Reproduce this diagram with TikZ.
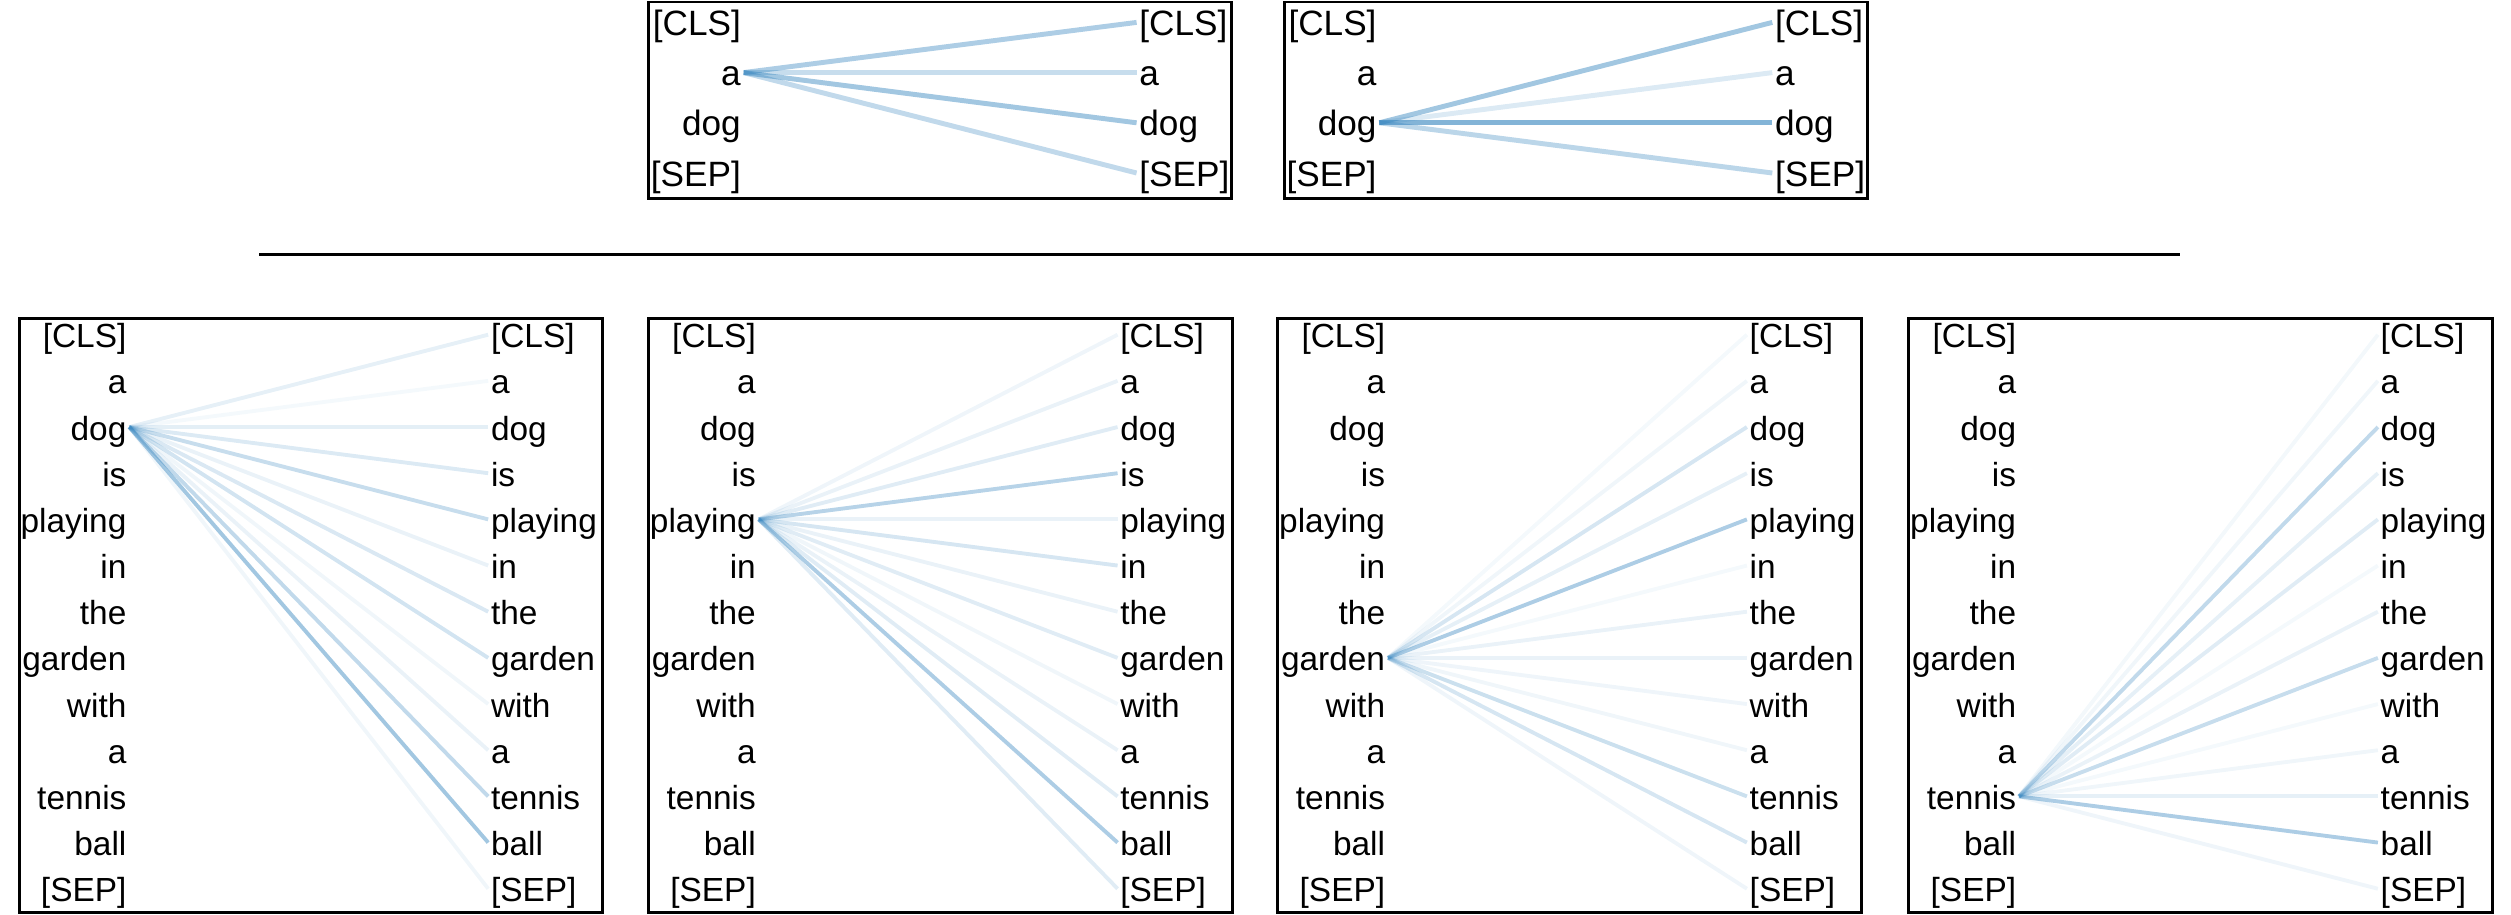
\documentclass[tikz,border=0pt]{standalone}
\usepackage{fontspec}
\setmainfont{Liberation Sans}
\definecolor{attn}{RGB}{49,130,189}

\begin{document}
\begin{tikzpicture}
[x=0.01cm,y=-0.01cm,%
  word/.style={inner ysep=0pt,inner xsep=0.6pt,text height=0.94em,text depth=0.2em,%
    font=\fontsize{9.5}{11}\selectfont},%
  lword/.style={word,anchor=east},%
  rword/.style={word,anchor=west},%
  bigword/.style={font=\fontsize{10}{12}\selectfont},%
  frame/.style={draw,line width=0.85pt},%
  att/.style={draw=attn,line width=1.1pt},%
  attbig/.style={draw=attn,line width=1.4pt}]
\useasboundingbox (0,0) rectangle (2511,915);
%% top row
\foreach \px/\p in {648.6/1, 1284.3/2}
{
  \draw[frame] (\px,2) rectangle ++(583,196.6);
  \foreach \w [count=\i from 0] in {{[CLS]},a,dog,{[SEP]}}
  {
    \node[lword,bigword] (tl\p-\i) at (\px+95,22.4+50.2*\i) {\w};
    \node[rword,bigword] (tr\p-\i) at (\px+488,22.4+50.2*\i) {\w};
  }
}
%%
\coordinate (sepL) at (259.4,254.6);
\coordinate (sepR) at (2179.5,254.6);
\draw[frame] (sepL) -- (sepR);
%% bottom row
\foreach \px/\p in {19.2/1, 648.6/2, 1277.9/3, 1908.9/4}
{
  \draw[frame] (\px,318.7) rectangle ++(583.5,594);
  \foreach \w [count=\i from 0] in {{[CLS]},a,dog,is,playing,in,the,garden,with,a,tennis,ball,{[SEP]}}
  {
    \node[lword] (bl\p-\i) at (\px+110,334.7+46.17*\i) {\w};
    \node[rword] (br\p-\i) at (\px+469,334.7+46.17*\i) {\w};
  }
}
%% attention
\path
\foreach \j/\op in {0/.4, 1/.27, 2/.45, 3/.3}
{
  (tl1-1.east) edge[attbig,opacity=\op] (tr1-\j.west)
}
\foreach \j/\op in {0/.45, 1/.17, 2/.6, 3/.33}
{
  (tl2-2.east) edge[attbig,opacity=\op] (tr2-\j.west)
}
\foreach \j/\op in {0/.12, 1/.05, 2/.13, 3/.17, 4/.27, 5/.1, 6/.18, 7/.22, 8/.07, 9/.1, 10/.3, 11/.45, 12/.07}
{
  (bl1-2.east) edge[att,opacity=\op] (br1-\j.west)
}
\foreach \j/\op in {0/.08, 1/.1, 2/.15, 3/.35, 4/.1, 5/.2, 6/.1, 7/.15, 8/.07, 9/.1, 10/.15, 11/.4, 12/.15}
{
  (bl2-4.east) edge[att,opacity=\op] (br2-\j.west)
}
\foreach \j/\op in {0/.05, 1/.07, 2/.2, 3/.12, 4/.4, 5/.05, 6/.1, 7/.1, 8/.08, 9/.07, 10/.25, 11/.2, 12/.08}
{
  (bl3-7.east) edge[att,opacity=\op] (br3-\j.west)
}
\foreach \j/\op in {0/.06, 1/.07, 2/.3, 3/.12, 4/.15, 5/.05, 6/.1, 7/.27, 8/.05, 9/.07, 10/.12, 11/.4, 12/.08}
{
  (bl4-10.east) edge[att,opacity=\op] (br4-\j.west)
};
\end{tikzpicture}
\end{document}
